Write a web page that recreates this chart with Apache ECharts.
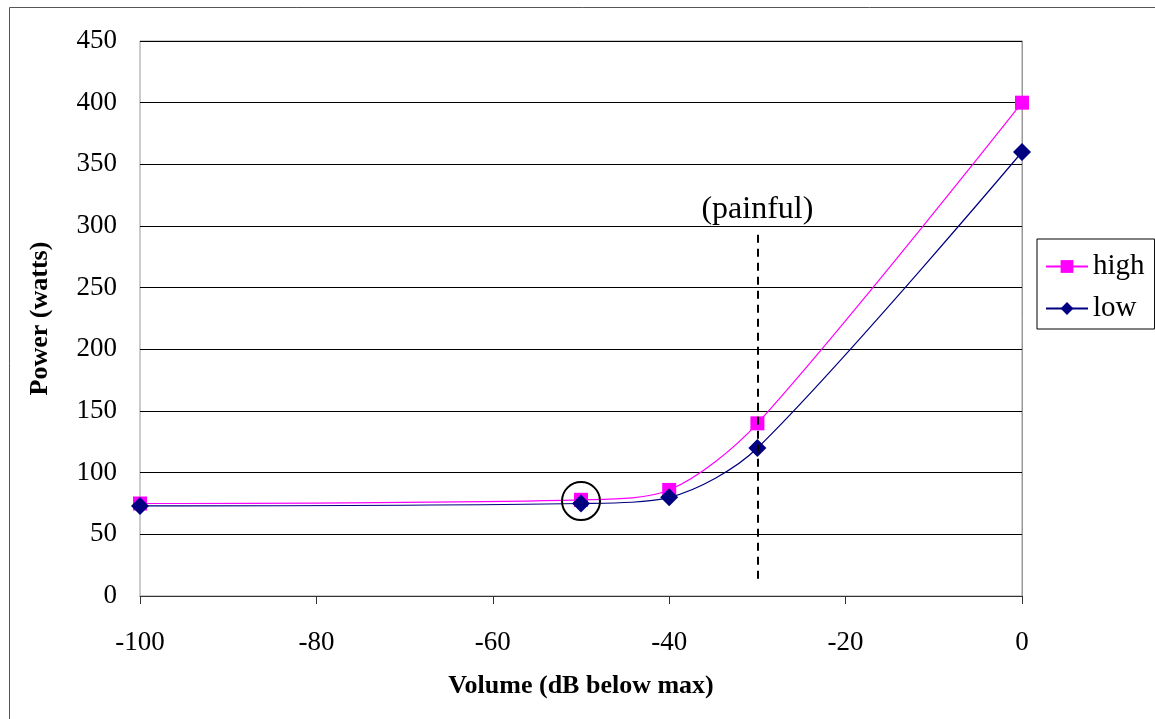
<!DOCTYPE html>
<html><head><meta charset="utf-8">
<script src="https://cdn.jsdelivr.net/npm/echarts@6/dist/echarts.min.js"></script>
<style>html,body{margin:0;padding:0;background:#fff}#c{width:1155px;height:719px}</style>
</head><body><div id="c"></div>
<script>
const xValues = [-100, -50, -40, -30, 0];
const highValues = [75, 78, 86, 140, 400];
const lowValues = [73, 75, 80, 120, 360];
const yTicks = [0, 450, 50];
const xTicks = [-100, 0, 20];
const painfulX = -30;
const painfulRange = [14, 295];
const circled = [-50, 77];

const chart = echarts.init(document.getElementById('c'));
const font = 'Liberation Serif';
chart.setOption({
  animation: false,
  textStyle: {fontFamily: font},
  graphic: [{type: 'rect', shape: {x: 9.5, y: 7.5, width: 1200, height: 800}, style: {fill: null, stroke: '#555', lineWidth: 1}}],
  grid: {left: 140, right: 133, top: 41, bottom: 123, show: true, borderColor: '#999', borderWidth: 1},
  legend: {
    left: 1037, top: 239, orient: 'vertical', itemWidth: 42, itemHeight: 16, itemGap: 13,
    padding: [13, 10, 6, 8], borderColor: '#000', borderWidth: 1, backgroundColor: '#fff',
    textStyle: {fontFamily: font, fontSize: 29, color: '#000'},
    data: ['high', 'low']
  },
  xAxis: {
    type: 'value', min: xTicks[0], max: xTicks[1], interval: xTicks[2],
    name: 'Volume (dB below max)', nameLocation: 'middle', nameGap: 77,
    nameTextStyle: {fontFamily: font, fontSize: 26, fontWeight: 'bold', color: '#000'},
    axisLine: {lineStyle: {color: '#333'}}, axisTick: {show: true, length: 8, lineStyle: {color: '#333'}},
    axisLabel: {fontFamily: font, fontSize: 27, color: '#000', margin: 33},
    splitLine: {show: false}
  },
  yAxis: {
    type: 'value', min: yTicks[0], max: yTicks[1], interval: yTicks[2],
    name: 'Power (watts)', nameLocation: 'middle', nameGap: 87, nameRotate: 90,
    nameTextStyle: {fontFamily: font, fontSize: 26, fontWeight: 'bold', color: '#000'},
    axisLine: {show: true, lineStyle: {color: '#999'}}, axisTick: {show: false},
    axisLabel: {fontFamily: font, fontSize: 27, color: '#000', margin: 23},
    splitLine: {show: true, lineStyle: {color: '#000', width: 1}}
  },
  series: [
    {
      name: 'high', type: 'line', smooth: 0.3, data: xValues.map((x, i) => [x, highValues[i]]),
      symbol: 'rect', symbolSize: 14, itemStyle: {color: '#FF00FF'}, lineStyle: {color: '#FF00FF', width: 1.2},
      z: 3
    },
    {
      name: 'low', type: 'line', smooth: 0.3, data: xValues.map((x, i) => [x, lowValues[i]]),
      symbol: 'diamond', symbolSize: 18, itemStyle: {color: '#000080'}, lineStyle: {color: '#000080', width: 1.2},
      z: 4,
      markLine: {
        silent: true, symbol: 'none',
        lineStyle: {color: '#000', type: [8, 6], width: 2},
        label: {show: true, position: 'end', formatter: '(painful)', fontFamily: font, fontSize: 32, color: '#000', distance: 7},
        data: [[{coord: [painfulX, painfulRange[0]]}, {coord: [painfulX, painfulRange[1]]}]]
      },
      markPoint: {
        silent: true, symbol: 'circle', symbolSize: 38,
        itemStyle: {color: 'rgba(0,0,0,0)', borderColor: '#000', borderWidth: 2},
        label: {show: false},
        data: [{coord: circled}]
      }
    }
  ]
});
</script></body></html>
